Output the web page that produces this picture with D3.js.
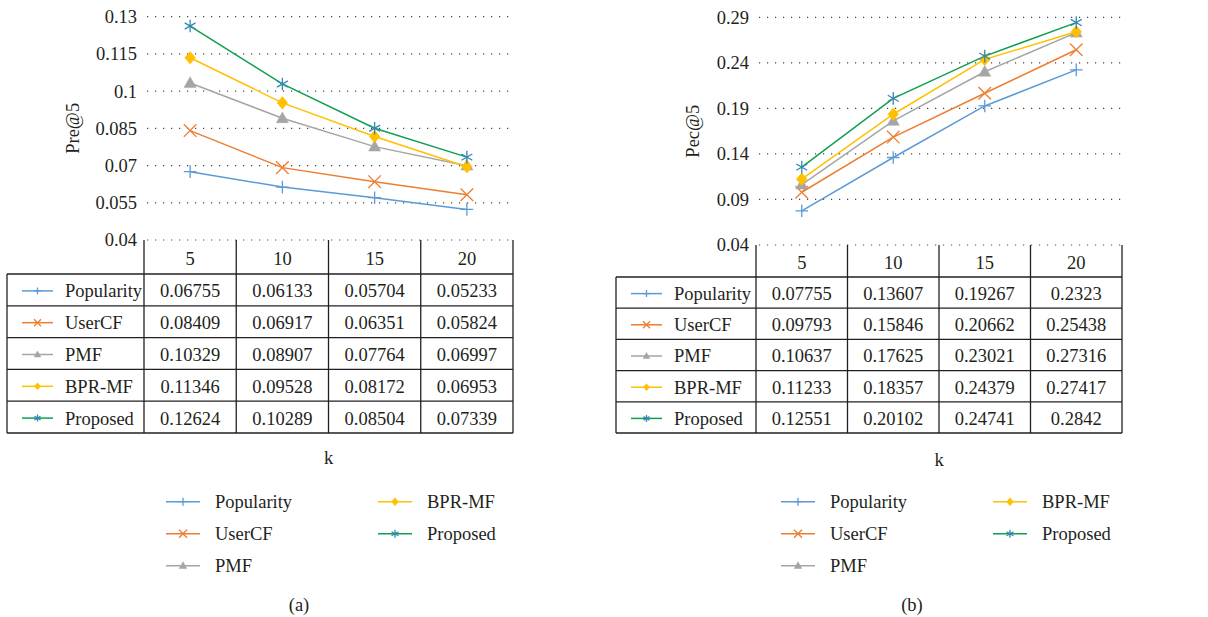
<!DOCTYPE html>
<html>
<head>
<meta charset="utf-8">
<script src="https://cdn.jsdelivr.net/npm/d3@7"></script>
<style>
  body { margin: 0; background: #fff; }
  svg text { font-family: "Liberation Serif", "DejaVu Serif", serif; font-size: 18.5px; fill: #231f20; }
</style>
</head>
<body>
<script>
var width = 1208,
    height = 617;

// data
var kValues = [5, 10, 15, 20];
var methods = ["Popularity", "UserCF", "PMF", "BPR-MF", "Proposed"];
var preAt5 = [
    [0.06755, 0.06133, 0.05704, 0.05233],
    [0.08409, 0.06917, 0.06351, 0.05824],
    [0.10329, 0.08907, 0.07764, 0.06997],
    [0.11346, 0.09528, 0.08172, 0.06953],
    [0.12624, 0.10289, 0.08504, 0.07339]
];
var pecAt5 = [
    [0.07755, 0.13607, 0.19267, 0.2323],
    [0.09793, 0.15846, 0.20662, 0.25438],
    [0.10637, 0.17625, 0.23021, 0.27316],
    [0.11233, 0.18357, 0.24379, 0.27417],
    [0.12551, 0.20102, 0.24741, 0.2842]
];
var preLabels = ["0.04", "0.055", "0.07", "0.085", "0.1", "0.115", "0.13"];
var pecLabels = ["0.04", "0.09", "0.14", "0.19", "0.24", "0.29"];
// end data

var lineColors = ["#5b9bd5", "#ed7d31", "#a5a5a5", "#ffc000", "#0f9f4f"],
    markColors = ["#5b9bd5", "#ed7d31", "#a5a5a5", "#ffc000", "#3489b0"],
    markTypes = ["plus", "cross", "triangle", "diamond", "asterisk"];

var svg = d3.select("body").append("svg")
    .attr("width", width)
    .attr("height", height);

// marker drawing
function drawMarker(g, type, x, y, s, color) {
    var p;
    if (type === "plus") p = "M" + (-s) + ",0H" + s + "M0," + (-s) + "V" + s;
    else if (type === "cross") p = "M" + (-s) + "," + (-s) + "L" + s + "," + s + "M" + (-s) + "," + s + "L" + s + "," + (-s);
    else if (type === "asterisk") {
        var c = s * Math.cos(Math.PI / 6), d = s * Math.sin(Math.PI / 6);
        p = "M0," + (-s) + "V" + s + "M" + (-c) + "," + (-d) + "L" + c + "," + d + "M" + (-c) + "," + d + "L" + c + "," + (-d);
    }
    else if (type === "triangle") p = "M0," + (-s) + "L" + (s * 0.95) + "," + (s * 0.7) + "L" + (-s * 0.95) + "," + (s * 0.7) + "Z";
    else p = "M0," + (-s) + "L" + (s * 0.85) + ",0L0," + s + "L" + (-s * 0.85) + ",0Z";

    var filled = (type === "triangle" || type === "diamond");
    g.append("path")
        .attr("transform", "translate(" + x + "," + y + ")")
        .attr("d", p)
        .attr("fill", filled ? color : "none")
        .attr("stroke", color)
        .attr("stroke-width", filled ? 0.5 : 1.3);
}

function drawPanel(cfg) {
    var g = svg.append("g");

    var xBand = d3.scaleBand().domain(kValues).range([cfg.plotLeft, cfg.plotRight]);
    var yScale = d3.scaleLinear()
        .domain([+cfg.labels[0], +cfg.labels[cfg.labels.length - 1]])
        .range([cfg.yBottom, cfg.yTop]);

    // dotted grid
    g.append("g").selectAll("line")
        .data(cfg.labels)
        .join("line")
        .attr("x1", cfg.plotLeft + 3)
        .attr("x2", cfg.plotRight)
        .attr("y1", d => yScale(+d))
        .attr("y2", d => yScale(+d))
        .attr("stroke", "#444")
        .attr("stroke-width", 1.2)
        .attr("stroke-dasharray", "1.2,6.8");

    // y axis labels
    var yAxis = d3.axisLeft(yScale)
        .tickValues(cfg.labels.map(Number))
        .tickFormat((d, i) => cfg.labels[i])
        .tickSize(0)
        .tickPadding(0);
    var ax = g.append("g")
        .attr("transform", "translate(" + (cfg.plotLeft - 7) + ",0)")
        .call(yAxis);
    ax.select(".domain").remove();
    ax.selectAll("text")
        .attr("fill", "#231f20")
        .style("font-size", "18.5px")
        .style("font-family", "'Liberation Serif', serif");

    g.append("text")
        .attr("transform", "translate(" + cfg.yLabelX + "," + ((cfg.yTop + cfg.yBottom) / 2) + ") rotate(-90)")
        .attr("text-anchor", "middle")
        .attr("dy", "0.35em")
        .text(cfg.yTitle);

    // lines and markers
    var line = d3.line()
        .x((d, i) => xBand(kValues[i]) + xBand.bandwidth() / 2)
        .y(d => yScale(d));

    cfg.values.forEach(function(series, si) {
        g.append("path")
            .attr("d", line(series))
            .attr("fill", "none")
            .attr("stroke", lineColors[si])
            .attr("stroke-width", 1.5);
    });
    cfg.values.forEach(function(series, si) {
        series.forEach(function(v, i) {
            drawMarker(g, markTypes[si], xBand(kValues[i]) + xBand.bandwidth() / 2, yScale(v), 6.3, markColors[si]);
        });
    });

    // data table
    var rowH = (cfg.rowsBottom - cfg.rowsTop) / methods.length;
    var tg = g.append("g");
    var stroke = "#231f20";

    kValues.concat(["end"]).forEach(function(k, i) {
        var x = i < kValues.length ? xBand(k) : cfg.plotRight;
        tg.append("line")
            .attr("x1", x).attr("x2", x)
            .attr("y1", cfg.yBottom).attr("y2", cfg.rowsBottom)
            .attr("stroke", stroke).attr("stroke-width", 1.3);
    });
    tg.append("line")
        .attr("x1", cfg.tableLeft).attr("x2", cfg.tableLeft)
        .attr("y1", cfg.rowsTop).attr("y2", cfg.rowsBottom)
        .attr("stroke", stroke).attr("stroke-width", 1.3);
    d3.range(methods.length + 1).forEach(function(r) {
        var y = cfg.rowsTop + r * rowH;
        tg.append("line")
            .attr("x1", cfg.tableLeft).attr("x2", cfg.plotRight)
            .attr("y1", y).attr("y2", y)
            .attr("stroke", stroke).attr("stroke-width", 1.3);
    });

    kValues.forEach(function(k) {
        tg.append("text")
            .attr("x", xBand(k) + xBand.bandwidth() / 2)
            .attr("y", (cfg.yBottom + cfg.rowsTop) / 2 + 2)
            .attr("dy", "0.35em")
            .attr("text-anchor", "middle")
            .text(k);
    });

    methods.forEach(function(m, si) {
        var cy = cfg.rowsTop + (si + 0.5) * rowH + 1;
        tg.append("line")
            .attr("x1", cfg.tableLeft + 15).attr("x2", cfg.tableLeft + 46)
            .attr("y1", cy).attr("y2", cy)
            .attr("stroke", lineColors[si]).attr("stroke-width", 1.5);
        drawMarker(tg, markTypes[si], cfg.tableLeft + 30.5, cy, 3.5, markColors[si]);
        tg.append("text")
            .attr("x", cfg.tableLeft + 58)
            .attr("y", cy)
            .attr("dy", "0.35em")
            .text(m);
        cfg.values[si].forEach(function(v, i) {
            tg.append("text")
                .attr("x", xBand(kValues[i]) + xBand.bandwidth() / 2)
                .attr("y", cy)
                .attr("dy", "0.35em")
                .attr("text-anchor", "middle")
                .text(v);
        });
    });

    g.append("text")
        .attr("x", (cfg.plotLeft + cfg.plotRight) / 2)
        .attr("y", cfg.kY)
        .attr("dy", "0.35em")
        .attr("text-anchor", "middle")
        .text("k");

    // legend
    var legendRows = [0, 1, 2, 0, 1],
        legendCols = [0, 0, 0, 1, 1];
    methods.forEach(function(m, si) {
        var lx = cfg.legendX[legendCols[si]],
            ly = cfg.legendTop + legendRows[si] * 32;
        g.append("line")
            .attr("x1", lx).attr("x2", lx + 34)
            .attr("y1", ly).attr("y2", ly)
            .attr("stroke", lineColors[si]).attr("stroke-width", 1.5);
        drawMarker(g, markTypes[si], lx + 17, ly, 4, markColors[si]);
        g.append("text")
            .attr("x", lx + 49)
            .attr("y", ly)
            .attr("dy", "0.35em")
            .text(m);
    });

    g.append("text")
        .attr("x", cfg.captionX)
        .attr("y", 605)
        .attr("dy", "0.35em")
        .attr("text-anchor", "middle")
        .text(cfg.caption);
}

drawPanel({
    values: preAt5, labels: preLabels, yTitle: "Pre@5", caption: "(a)",
    tableLeft: 7, plotLeft: 144, plotRight: 513,
    yTop: 16.7, yBottom: 240, rowsTop: 274, rowsBottom: 433,
    yLabelX: 73, kY: 458, legendX: [166, 378], legendTop: 501.7, captionX: 299
});

drawPanel({
    values: pecAt5, labels: pecLabels, yTitle: "Pec@5", caption: "(b)",
    tableLeft: 616, plotLeft: 756, plotRight: 1122,
    yTop: 17.3, yBottom: 245, rowsTop: 277, rowsBottom: 433,
    yLabelX: 693, kY: 460, legendX: [781, 993], legendTop: 501.7, captionX: 912
});
</script>
</body>
</html>
